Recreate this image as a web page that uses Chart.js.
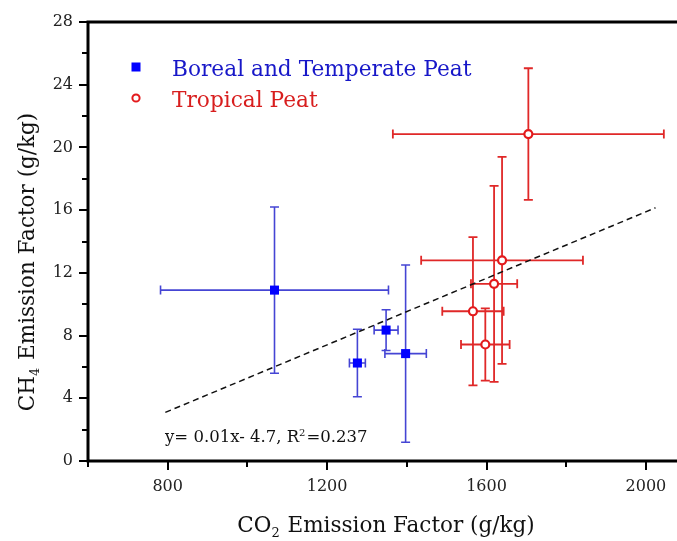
<!DOCTYPE html>
<html>
<head>
<meta charset="utf-8">
<script src="https://cdn.jsdelivr.net/npm/chart.js@4.4.1/dist/chart.umd.min.js"></script>
<style>
  html, body { margin: 0; padding: 0; background: #fff; overflow: hidden; }
  canvas { display: block; }
</style>
</head>
<body>
<canvas id="c" width="677" height="541"></canvas>
<script>
// CO2 vs CH4 emission factors of peat fires, mean ± 1 s.d. in both directions

const borealLabel = 'Boreal and Temperate Peat';
const borealCO2 = [1068, 1276, 1348, 1397];
const borealCO2Err = [286, 20, 30, 52];
const borealCH4 = [10.9, 6.25, 8.35, 6.85];
const borealCH4Err = [5.3, 2.15, 1.3, 5.65];

const tropicalLabel = 'Tropical Peat';
const tropicalCO2 = [1705, 1639, 1619, 1566, 1597];
const tropicalCO2Err = [340, 203, 58, 77, 61];
const tropicalCH4 = [20.85, 12.8, 11.3, 9.55, 7.43];
const tropicalCH4Err = [4.2, 6.6, 6.25, 4.73, 2.3];

// end points of the linear fit through all samples
const fitCO2 = [794, 2024];
const fitCH4 = [3.1, 16.15];
const fitEquation = ['y= 0.01x- 4.7, R', '2', '=0.237'];

const xTicks = [600, 800, 1000, 1200, 1400, 1600, 1800, 2000];
const xTickLabels = [800, 1200, 1600, 2000];
const yTicks = [0, 2, 4, 6, 8, 10, 12, 14, 16, 18, 20, 22, 24, 26, 28];
const yTickLabels = [0, 4, 8, 12, 16, 20, 24, 28];

const xTitle = ['CO', '2', ' Emission Factor (g/kg)'];
const yTitle = ['CH', '4', ' Emission Factor (g/kg)'];

const SERIF = '"DejaVu Serif", "Liberation Serif", serif';
const BLUE = '#0000ff', BLUE_BAR = '#4545d4', BLUE_TEXT = '#1717c8';
const RED = '#e31a1c', RED_BAR = '#e02828', RED_TEXT = '#d81e1e';

const toPoints = (xs, ys) => xs.map((v, i) => ({ x: v, y: ys[i] }));

// error bars are drawn beneath the markers
const errorBars = {
  id: 'errorBars',
  beforeDatasetsDraw(chart) {
    const { ctx, scales: { x, y } } = chart;
    chart.data.datasets.forEach(ds => {
      if (!ds.xErr) return;
      ctx.save();
      ctx.strokeStyle = ds.barColor;
      ctx.lineWidth = ds.barWidth;
      const cap = 4.5;
      ds.data.forEach((p, j) => {
        const px = x.getPixelForValue(p.x), py = y.getPixelForValue(p.y);
        const x0 = x.getPixelForValue(p.x - ds.xErr[j]);
        const x1 = x.getPixelForValue(p.x + ds.xErr[j]);
        const y0 = y.getPixelForValue(p.y - ds.yErr[j]);
        const y1 = y.getPixelForValue(p.y + ds.yErr[j]);
        ctx.beginPath();
        ctx.moveTo(x0, py); ctx.lineTo(x1, py);
        ctx.moveTo(x0, py - cap); ctx.lineTo(x0, py + cap);
        ctx.moveTo(x1, py - cap); ctx.lineTo(x1, py + cap);
        ctx.moveTo(px, y0); ctx.lineTo(px, y1);
        ctx.moveTo(px - cap, y0); ctx.lineTo(px + cap, y0);
        ctx.moveTo(px - cap, y1); ctx.lineTo(px + cap, y1);
        ctx.stroke();
      });
      ctx.restore();
    });
  }
};

// text with one lowered or raised small part
function drawScripted(ctx, parts, x, y, size, shift, color) {
  ctx.fillStyle = color;
  ctx.textBaseline = 'alphabetic';
  ctx.textAlign = 'left';
  let cx = x;
  parts.forEach((t, i) => {
    const small = i === 1;
    ctx.font = (small ? Math.round(size * 0.6) : size) + 'px ' + SERIF;
    ctx.fillText(t, cx, small ? y + shift : y);
    cx += ctx.measureText(t).width + (small ? 1 : 0);
  });
  return cx - x;
}
function scriptedWidth(ctx, parts, size) {
  let w = 0;
  parts.forEach((t, i) => {
    ctx.font = (i === 1 ? Math.round(size * 0.6) : size) + 'px ' + SERIF;
    w += ctx.measureText(t).width + (i === 1 ? 1 : 0);
  });
  return w;
}

const frame = {
  id: 'frame',
  afterDraw(chart) {
    const { ctx, chartArea: a, scales: { x, y } } = chart;
    ctx.save();
    ctx.strokeStyle = '#000';
    ctx.lineCap = 'butt';
    // axes and top border (the plot runs on past the right edge)
    ctx.lineWidth = 3;
    ctx.beginPath();
    ctx.moveTo(a.left, a.top); ctx.lineTo(a.right + 2, a.top);
    ctx.moveTo(a.left, a.top - 1.5); ctx.lineTo(a.left, a.bottom + 1.5);
    ctx.moveTo(a.left - 1.5, a.bottom); ctx.lineTo(a.right + 2, a.bottom);
    ctx.stroke();
    // outward tick marks
    ctx.lineWidth = 2;
    ctx.beginPath();
    xTicks.forEach(v => {
      const px = Math.round(x.getPixelForValue(v));
      const len = xTickLabels.includes(v) ? 9 : 6;
      ctx.moveTo(px, a.bottom); ctx.lineTo(px, a.bottom + len);
    });
    yTicks.forEach(v => {
      const py = Math.round(y.getPixelForValue(v));
      const len = yTickLabels.includes(v) ? 9 : 6;
      ctx.moveTo(a.left, py); ctx.lineTo(a.left - len, py);
    });
    ctx.stroke();

    // axis titles
    const ts = 21.5;
    const wx = scriptedWidth(ctx, xTitle, ts);
    drawScripted(ctx, xTitle, 386 - wx / 2, 532, ts, 5, '#111');
    ctx.save();
    ctx.translate(34, 262);
    ctx.rotate(-Math.PI / 2);
    const wy = scriptedWidth(ctx, yTitle, ts);
    drawScripted(ctx, yTitle, -wy / 2, 0, ts, 5, '#111');
    ctx.restore();

    // legend inside the plot
    const ds = chart.data.datasets;
    ctx.fillStyle = BLUE;
    ctx.fillRect(131.5, 62.5, 9, 9);
    ctx.beginPath();
    ctx.arc(136, 98, 3.6, 0, Math.PI * 2);
    ctx.fillStyle = '#fff';
    ctx.fill();
    ctx.lineWidth = 2;
    ctx.strokeStyle = RED;
    ctx.stroke();
    ctx.font = '21.7px ' + SERIF;
    ctx.textBaseline = 'alphabetic';
    ctx.textAlign = 'left';
    ctx.fillStyle = BLUE_TEXT;
    ctx.fillText(ds[0].label, 172, 76);
    ctx.fillStyle = RED_TEXT;
    ctx.fillText(ds[1].label, 172, 107);

    // fit equation
    drawScripted(ctx, fitEquation, 165, 442, 16.5, -6, '#111');
    ctx.restore();
  }
};

new Chart(document.getElementById('c'), {
  type: 'scatter',
  data: {
    datasets: [
      {
        label: borealLabel,
        data: toPoints(borealCO2, borealCH4),
        xErr: borealCO2Err, yErr: borealCH4Err,
        barColor: BLUE_BAR, barWidth: 1.6,
        pointStyle: 'rect', pointRadius: 6.4, pointHoverRadius: 6.4,
        backgroundColor: BLUE, borderColor: BLUE, borderWidth: 0,
        order: 1
      },
      {
        label: tropicalLabel,
        data: toPoints(tropicalCO2, tropicalCH4),
        xErr: tropicalCO2Err, yErr: tropicalCH4Err,
        barColor: RED_BAR, barWidth: 1.8,
        pointStyle: 'circle', pointRadius: 4, pointHoverRadius: 4,
        backgroundColor: '#fff', borderColor: RED, borderWidth: 2.2,
        order: 0
      },
      {
        label: 'fit',
        data: toPoints(fitCO2, fitCH4),
        showLine: true, pointRadius: 0,
        borderColor: '#111', borderWidth: 1.5, borderDash: [6, 4],
        order: 2
      }
    ]
  },
  options: {
    responsive: false,
    animation: false,
    events: [],
    layout: { autoPadding: false, padding: { top: 22, left: 0, right: 0, bottom: 0 } },
    plugins: { legend: { display: false }, tooltip: { enabled: false } },
    scales: {
      x: {
        type: 'linear', min: 600, max: 2078,
        grid: { display: false, drawTicks: false },
        border: { display: false },
        afterBuildTicks: s => { s.ticks = xTicks.map(v => ({ value: v })); },
        afterFit: s => { s.height = 80; s.paddingLeft = 0; s.paddingRight = 0; },
        ticks: {
          autoSkip: false, maxRotation: 0, padding: 16,
          color: '#222', font: { family: SERIF, size: 16 },
          callback: v => xTickLabels.includes(v) ? String(v) : ''
        }
      },
      y: {
        type: 'linear', min: 0, max: 28,
        grid: { display: false, drawTicks: false },
        border: { display: false },
        afterBuildTicks: s => { s.ticks = yTicks.map(v => ({ value: v })); },
        afterFit: s => { s.width = 88; s.paddingTop = 0; s.paddingBottom = 0; },
        ticks: {
          autoSkip: false, padding: 15,
          color: '#222', font: { family: SERIF, size: 16 },
          callback: v => yTickLabels.includes(v) ? String(v) : ''
        }
      }
    }
  },
  plugins: [errorBars, frame]
});
</script>
</body>
</html>
